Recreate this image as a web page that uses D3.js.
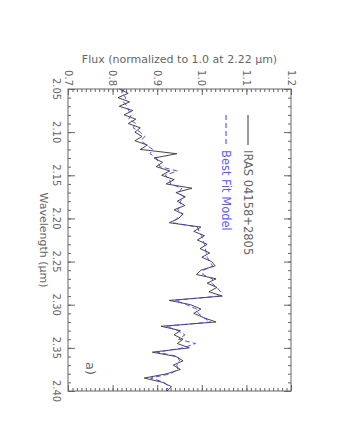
<!DOCTYPE html>
<html>
<head>
<meta charset="utf-8">
<script src="https://cdn.jsdelivr.net/npm/d3@7"></script>
<style>
  body { margin: 0; background: #fff; }
  text { font-family: "DejaVu Sans", "Liberation Sans", sans-serif; fill: #666; }
</style>
</head>
<body>
<div id="chart"></div>
<script>
// wavelength grid (micron), every 0.005
const wavelength = [
  2.050, 2.055, 2.060, 2.065, 2.070, 2.075, 2.080, 2.085, 2.090, 2.095,
  2.100, 2.105, 2.110, 2.115, 2.120, 2.125, 2.130, 2.135, 2.140, 2.145,
  2.150, 2.155, 2.160, 2.165, 2.170, 2.175, 2.180, 2.185, 2.190, 2.195,
  2.200, 2.205, 2.210, 2.215, 2.220, 2.225, 2.230, 2.235, 2.240, 2.245,
  2.250, 2.255, 2.260, 2.265, 2.270, 2.275, 2.280, 2.285, 2.290, 2.295,
  2.300, 2.305, 2.310, 2.315, 2.320, 2.325, 2.330, 2.335, 2.340, 2.345,
  2.350, 2.355, 2.360, 2.365, 2.370, 2.375, 2.380, 2.385, 2.390, 2.395,
  2.400
];

// IRAS 04158+2805 observed spectrum
const observed = [
  0.815, 0.835, 0.812, 0.838, 0.815, 0.845, 0.826, 0.852, 0.835, 0.862,
  0.850, 0.866, 0.850, 0.878, 0.862, 0.944, 0.893, 0.912, 0.898, 0.928,
  0.910, 0.938, 0.920, 0.978, 0.942, 0.963, 0.945, 0.962, 0.938, 0.958,
  0.948, 0.927, 0.998, 0.982, 1.006, 0.990, 1.012, 0.996, 1.018, 1.000,
  1.022, 1.030, 0.998, 0.988, 1.032, 1.012, 1.034, 1.016, 1.046, 0.927,
  0.975, 0.998, 0.982, 1.004, 1.032, 0.909, 0.952, 0.938, 0.958, 0.945,
  0.972, 0.889, 0.942, 0.958, 0.936, 0.952, 0.922, 0.871, 0.912, 0.932,
  0.922
];

// best fit model
const model = [
  0.826, 0.820, 0.830, 0.824, 0.833, 0.836, 0.842, 0.836, 0.852, 0.846,
  0.862, 0.872, 0.864, 0.876, 0.890, 0.884, 0.898, 0.902, 0.906, 0.945,
  0.918, 0.928, 0.930, 0.955, 0.948, 0.960, 0.952, 0.952, 0.946, 0.958,
  0.944, 0.935, 0.990, 0.994, 1.000, 1.002, 1.006, 1.008, 1.010, 1.012,
  1.018, 1.024, 1.004, 1.002, 1.024, 1.022, 1.034, 1.042, 1.038, 0.940,
  0.966, 0.988, 0.992, 1.004, 1.020, 0.920, 0.946, 0.962, 0.948, 0.986,
  0.958, 0.900, 0.946, 0.950, 0.944, 0.946, 0.930, 0.885, 0.916, 0.925,
  0.920
];

const fluxTicks = [0.7, 0.8, 0.9, 1.0, 1.1, 1.2];
const waveTicks = [2.05, 2.10, 2.15, 2.20, 2.25, 2.30, 2.35, 2.40];
const legendLabels = ["IRAS 04158+2805", "Best Fit Model"];

const width = 340;
const height = 440;
const x0 = 68, x1 = 291, y0 = 89, y1 = 391;
const axisColor = "#666";

const svg = d3.select("#chart")
    .append("svg")
    .attr("width", width)
    .attr("height", height);

const x = d3.scaleLinear().domain([0.7, 1.2]).range([x0, x1]);
const y = d3.scaleLinear().domain([2.05, 2.40]).range([y0, y1]);

const fluxMinor = d3.range(70, 121).map(d => d / 100);
const waveMinor = d3.range(205, 241).map(d => d / 100);

// frame
svg.append("rect")
    .attr("x", x0).attr("y", y0)
    .attr("width", x1 - x0).attr("height", y1 - y0)
    .attr("fill", "none").attr("stroke", axisColor);

const tickAxis = (axis, scale, values, size, tx, ty) => {
    const g = svg.append("g")
        .attr("transform", `translate(${tx},${ty})`)
        .call(axis(scale).tickValues(values).tickSize(size).tickFormat(""));
    g.select(".domain").remove();
    g.selectAll("line").attr("stroke", axisColor);
    return g;
};

// inward ticks on all four sides
tickAxis(d3.axisTop, x, fluxMinor, -3, 0, y0);
tickAxis(d3.axisTop, x, fluxTicks, -6, 0, y0);
tickAxis(d3.axisBottom, x, fluxMinor, -3, 0, y1);
tickAxis(d3.axisBottom, x, fluxTicks, -6, 0, y1);
tickAxis(d3.axisLeft, y, waveMinor, -3, x0, 0);
tickAxis(d3.axisLeft, y, waveTicks, -7, x0, 0);
tickAxis(d3.axisRight, y, waveMinor, -3, x1, 0);
tickAxis(d3.axisRight, y, waveTicks, -7, x1, 0);

// flux tick labels (rotated)
svg.append("g").selectAll("text")
    .data(fluxTicks)
    .join("text")
    .attr("transform", d => `translate(${x(d)},${y0 - 3}) rotate(90)`)
    .attr("text-anchor", "end")
    .attr("dy", "0.35em")
    .attr("font-size", 10)
    .text(d3.format(".1f"));

// wavelength tick labels (rotated)
svg.append("g").selectAll("text")
    .data(waveTicks)
    .join("text")
    .attr("transform", d => `translate(${x0 - 15},${y(d)}) rotate(90)`)
    .attr("text-anchor", "middle")
    .attr("font-size", 10)
    .text(d3.format(".2f"));

svg.append("text")
    .attr("x", (x0 + x1) / 2)
    .attr("y", 63)
    .attr("text-anchor", "middle")
    .attr("font-size", 11)
    .text("Flux (normalized to 1.0 at 2.22 \u03bcm)");

svg.append("text")
    .attr("transform", `translate(40,${(y0 + y1) / 2}) rotate(90)`)
    .attr("text-anchor", "middle")
    .attr("font-size", 11)
    .text("Wavelength (\u03bcm)");

// spectra
const line = vals => d3.line()
    .x((d, i) => x(vals[i]))
    .y(d => y(d))(wavelength);

svg.append("path")
    .attr("d", line(observed))
    .attr("fill", "none")
    .attr("stroke", "#333")
    .attr("stroke-width", 0.9);

svg.append("path")
    .attr("d", line(model))
    .attr("fill", "none")
    .attr("stroke", "#3b3bff")
    .attr("stroke-width", 0.9)
    .attr("stroke-dasharray", "5,3");

// legend
const legend = [
    { label: legendLabels[0], color: "#333", dash: null, lx: 248, textColor: "#666" },
    { label: legendLabels[1], color: "#3b3bff", dash: "5,3", lx: 226, textColor: "#5a5aff" }
];
legend.forEach(d => {
    svg.append("line")
        .attr("x1", d.lx).attr("x2", d.lx)
        .attr("y1", 115).attr("y2", 145)
        .attr("stroke", d.color)
        .attr("stroke-dasharray", d.dash);
    svg.append("text")
        .attr("transform", `translate(${d.lx},150) rotate(90)`)
        .attr("dy", "0.35em")
        .attr("font-size", 11.5)
        .style("fill", d.textColor)
        .text(d.label);
});

svg.append("text")
    .attr("transform", `translate(${x0 + 23},362) rotate(90)`)
    .attr("dy", "0.35em")
    .attr("font-size", 13)
    .text("a)");
</script>
</body>
</html>
